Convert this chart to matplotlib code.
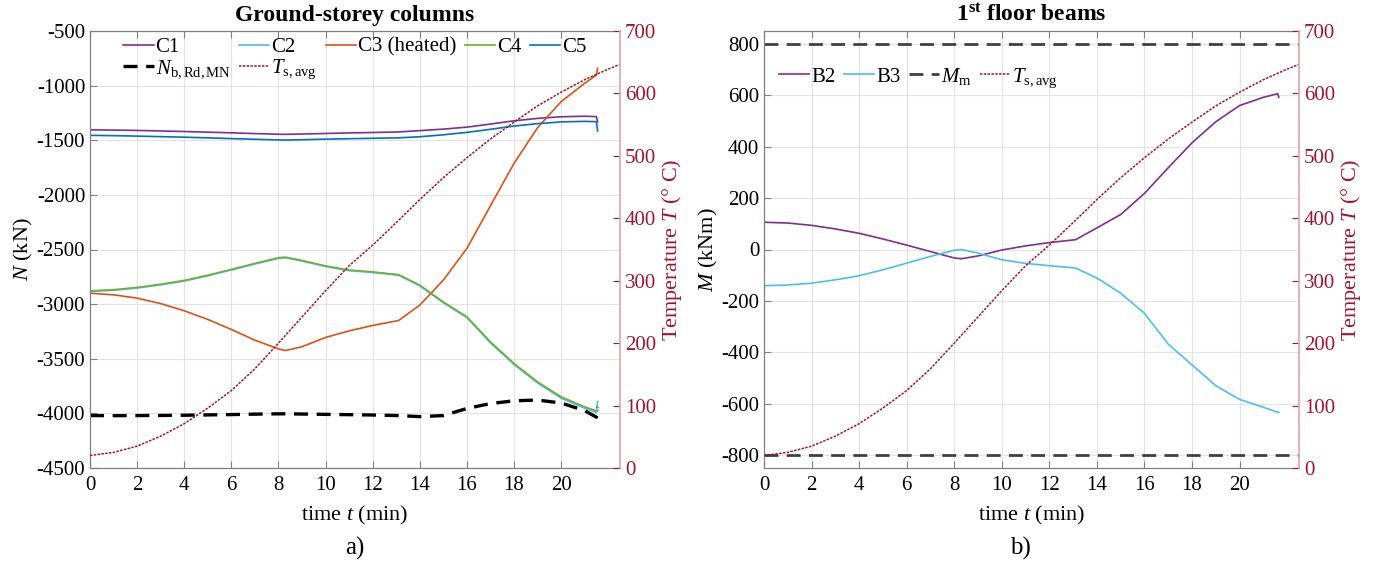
import matplotlib
matplotlib.use('Agg')
import matplotlib.pyplot as plt

plt.rcParams['font.family'] = ['Liberation Serif', 'DejaVu Serif']
plt.rcParams['mathtext.fontset'] = 'custom'
plt.rcParams['mathtext.rm'] = 'Liberation Serif'
plt.rcParams['mathtext.it'] = 'Liberation Serif:italic'
plt.rcParams['mathtext.bf'] = 'Liberation Serif:bold'

# ---------------- data ----------------
t_col = [0, 1, 2, 3, 4, 5, 6, 7, 8, 8.3, 9, 10, 11, 12, 13.1, 14, 15, 16, 17,
         18, 19, 20, 21, 21.5, 21.55]
C1 = [-1405, -1407, -1410, -1415, -1420, -1426, -1432, -1439, -1445, -1446,
      -1443, -1438, -1433, -1429, -1424, -1412, -1398, -1380, -1352, -1322,
      -1300, -1285, -1280, -1284, -1330]
C2 = [-2884, -2874, -2853, -2824, -2789, -2741, -2688, -2633, -2581, -2576,
      -2606, -2656, -2694, -2711, -2736, -2833, -2988, -3124, -3355, -3553,
      -3722, -3861, -3953, -3992, -3890]
C3 = [-2900, -2915, -2945, -2995, -3061, -3140, -3232, -3330, -3410, -3425,
      -3390, -3305, -3245, -3195, -3150, -3009, -2780, -2490, -2100, -1712,
      -1385, -1147, -979, -903, -842]
C4 = [-2878, -2868, -2847, -2818, -2783, -2735, -2682, -2627, -2575, -2570,
      -2600, -2650, -2688, -2705, -2730, -2826, -2980, -3116, -3345, -3543,
      -3711, -3849, -3940, -3978, -3975]
C5 = [-1455, -1458, -1462, -1467, -1472, -1478, -1485, -1491, -1497, -1498,
      -1495, -1490, -1486, -1482, -1478, -1468, -1450, -1428, -1400, -1370,
      -1348, -1332, -1327, -1330, -1415]
N_bRdMN = [-4020, -4021, -4020, -4019, -4017, -4014, -4011, -4007, -4004, -4004,
           -4006, -4009, -4012, -4015, -4020, -4030, -4020, -3955, -3910, -3885,
           -3878, -3905, -3975, -4035, -3940]

t_T = [0, 1, 2, 3, 4, 5, 6, 7, 8, 9, 10, 11, 12, 13, 14, 15, 16, 17, 18, 19,
       20, 21, 22, 22.6]
T_savg = [20, 25, 35, 51, 71, 96, 124, 159, 200, 242, 284, 324, 357, 393, 430,
          465, 497, 527, 554, 580, 602, 622, 639, 648]

t_beam = [0, 1, 2, 3, 4, 5, 6, 7, 8, 8.3, 9, 10, 11, 12, 13.1, 14, 15, 16, 17,
          18, 19, 20, 21, 21.6, 21.65]
B2 = [106, 103, 94, 80, 63, 41, 17, -8, -33, -36, -25, -2, 14, 27, 38, 84, 136,
      218, 318, 415, 497, 560, 592, 606, 592]
B3 = [-141, -138, -131, -118, -102, -79, -53, -27, -3, 0, -14, -40, -54, -63,
      -72, -111, -170, -248, -368, -449, -530, -583, -614, -633, -633]
M_m = [800, -800]

x_ticks = [0, 2, 4, 6, 8, 10, 12, 14, 16, 18, 20]
N_ticks = [-500, -1000, -1500, -2000, -2500, -3000, -3500, -4000, -4500]
M_ticks = [-800, -600, -400, -200, 0, 200, 400, 600, 800]
T_ticks = [0, 100, 200, 300, 400, 500, 600, 700]

# ---------------- style ----------------
col = {'C1': '#7E2F8E', 'C2': '#4DBEEE', 'C3': '#D95319', 'C4': '#77AC30',
       'C5': '#0072BD', 'T': '#A2142F'}
RED = '#A2142F'
AXC = '#808080'
FS = 15
FL = 16

fig = plt.figure(figsize=(13.83, 5.66), dpi=100)
axL = fig.add_axes([90/1383, 1-468/566, 530/1383, 437/566])
axR = fig.add_axes([764/1383, 1-468/566, 535/1383, 437/566])


def style_axes(ax, ylim, yticks):
    ax.set_xlim(0, 22.5)
    ax.set_ylim(*ylim)
    ax.set_xticks(x_ticks)
    ax.set_yticks(yticks)
    ax.grid(True, color='#E3E3E3', lw=0.8)
    ax.set_axisbelow(True)
    for s in ['left', 'bottom', 'top']:
        ax.spines[s].set_color(AXC)
        ax.spines[s].set_linewidth(0.9)
    ax.spines['right'].set_visible(False)
    ax.tick_params(axis='both', direction='in', length=5, width=0.8,
                   color=AXC, labelsize=FS, labelcolor='black', top=True)
    ax.tick_params(axis='x', pad=6)
    ax.set_xlabel('time $t$ (min)', fontsize=FL, labelpad=6)


def style_twin(ax2):
    ax2.set_ylim(0, 700)
    ax2.set_yticks(T_ticks)
    for s in ['left', 'bottom', 'top']:
        ax2.spines[s].set_visible(False)
    ax2.spines['right'].set_color('#D9A6B0')
    ax2.spines['right'].set_linewidth(1.2)
    ax2.tick_params(axis='y', direction='in', length=5, width=0.8,
                    color=RED, labelsize=FS, labelcolor=RED)
    ax2.set_ylabel('Temperature $T$ (° C)', color=RED, fontsize=FL, labelpad=3)


# ---------------- left panel ----------------
style_axes(axL, (-4500, -500), N_ticks)
axL.set_yticklabels([str(v) for v in N_ticks])
axL.set_ylabel('$N$ (kN)', fontsize=FL, labelpad=1)
axL.set_title('Ground-storey columns', fontsize=17, fontweight='bold', pad=7)
lw = 1.2
hC1, = axL.plot(t_col, C1, color=col['C1'], lw=lw, label='C1')
hC2, = axL.plot(t_col, C2, color=col['C2'], lw=lw, label='C2')
hC3, = axL.plot(t_col, C3, color=col['C3'], lw=lw, label='C3 (heated)')
hC4, = axL.plot(t_col, C4, color=col['C4'], lw=lw, label='C4')
hC5, = axL.plot(t_col, C5, color=col['C5'], lw=lw, label='C5')
hN, = axL.plot(t_col, N_bRdMN, color='black', lw=2.4,
               linestyle=(0, (4.2, 2.6)), label='$N_{\\mathrm{b,Rd,MN}}$')
axL2 = axL.twinx()
style_twin(axL2)
hT, = axL2.plot(t_T, T_savg, color=col['T'], lw=1.1, linestyle=(0, (1.6, 0.9)),
                label='$T_{\\mathrm{s,avg}}$')
axL2.legend(handles=[hC1, hN, hC2, hT, hC3, hC4, hC5], ncol=5,
            loc='upper left', bbox_to_anchor=(0.055, 0.995), frameon=False,
            fontsize=FS, handlelength=1.45, handletextpad=0.1,
            columnspacing=0.4, labelspacing=0.05, borderpad=0.2,
            borderaxespad=0)

# ---------------- right panel ----------------
style_axes(axR, (-850, 850), M_ticks)
axR.set_yticklabels([str(v) for v in M_ticks])
axR.set_ylabel('$M$ (kNm)', fontsize=FL, labelpad=1)
axR.set_title('1$^{\\mathbf{st}}$ floor beams', fontsize=17, fontweight='bold', pad=7)
hB2, = axR.plot(t_beam, B2, color=col['C1'], lw=lw, label='B2')
hB3, = axR.plot(t_beam, B3, color=col['C2'], lw=lw, label='B3')
for m in M_m:
    hM = axR.axhline(m, color='#404040', lw=2.0, linestyle=(0, (5, 3)),
                     label='$M_{\\mathrm{m}}$')
axR2 = axR.twinx()
style_twin(axR2)
hT2, = axR2.plot(t_T, T_savg, color=col['T'], lw=1.1, linestyle=(0, (1.6, 0.9)),
                 label='$T_{\\mathrm{s,avg}}$')
axR2.legend(handles=[hB2, hB3, hM, hT2], ncol=4, loc='upper left',
            bbox_to_anchor=(0.02, 0.93), frameon=False, fontsize=FS,
            handlelength=1.45, handletextpad=0.1, columnspacing=0.4,
            borderpad=0.2, borderaxespad=0)

fig.text(355/1383, 1-548/566, 'a)', fontsize=18, ha='center', va='center')
fig.text(1020/1383, 1-548/566, 'b)', fontsize=18, ha='center', va='center')

fig.savefig('out.png', dpi=100)
